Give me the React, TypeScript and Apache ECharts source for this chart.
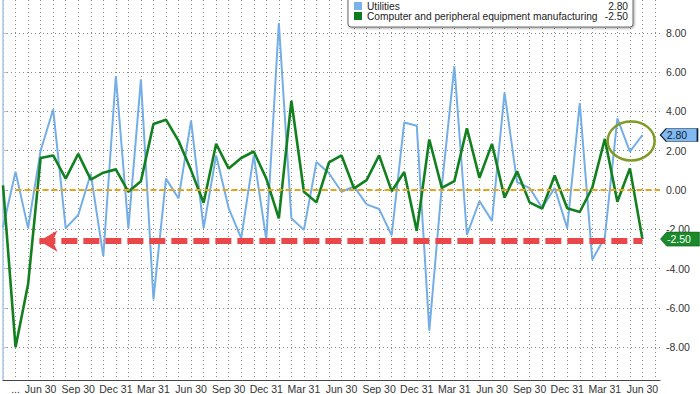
import { useEffect, useRef } from "react";
import * as echarts from "echarts";

// Monthly changes, last point = Jun 30
const utilities = [
  -1.9, 0.93, -1.94, 2.0, 4.1, -1.94, -1.27, 0.83, -3.37, 5.8,
  -1.94, 5.63, -5.57, 0.58, -0.43, 3.53, -1.94, 1.76, -0.93, -2.45,
  1.76, -2.53, 8.5, -1.44, -2.03, 1.42, 0.85, -0.09, 0.18, -0.73,
  -0.97, -2.31, 3.44, 3.27, -7.16, 0.2, 6.3, -2.28, -0.56, -1.57,
  4.96, 0.4, 0.1, -0.9, 0.1, -1.94, 4.42, -3.55, -2.4, 3.65,
  1.95, 2.8,
];

const computer = [
  0.24, -8.0, -4.8, 1.63, 1.76, 0.58, 1.84, 0.53, 0.88, 1.05,
  -0.09, 0.45, 3.36, 3.58, 2.5, 1.0, -0.65, 2.35, 1.09, 1.63,
  1.96, 0.58, -1.44, 4.54, -0.09, -0.63, 1.4, 1.76, 0.08, 0.5,
  1.76, -0.06, 0.92, -2.08, 2.57, 0.11, 0.45, 3.14, 0.62, 2.35,
  -0.39, 0.95, -0.63, -0.95, 0.74, -0.93, -1.12, 0.12, 2.6, -0.6,
  1.1, -2.5,
];

const seriesNames = ["Utilities", "Computer and peripheral equipment manufacturing"];

const xTickLabels = [
  "...", "Jun 30", "Sep 30", "Dec 31", "Mar 31", "Jun 30", "Sep 30", "Dec 31", "Mar 31",
  "Jun 30", "Sep 30", "Dec 31", "Mar 31", "Jun 30", "Sep 30", "Dec 31", "Mar 31", "Jun 30",
];
const xTickIndex = [1, 3, 6, 9, 12, 15, 18, 21, 24, 27, 30, 33, 36, 39, 42, 45, 48, 51];

// annotation anchors (in data units)
const arrowLevel = -2.6;
const arrowFrom = 2.9;
const ellipseCenter = [50.1, 2.5];

const FONT = "'Liberation Sans', Arial, sans-serif";
const GRID_COLOR = "#8a8a8a";

export default function App() {
  const ref = useRef<HTMLDivElement>(null);

  useEffect(() => {
    if (!ref.current) return;
    const chart = echarts.init(ref.current, undefined, { renderer: "svg" });
    const last = utilities.length - 1;
    const labelMap: Record<number, string> = {};
    xTickIndex.forEach((idx, k) => (labelMap[idx] = xTickLabels[k]));

    const blueVal = utilities[last];
    const greenVal = computer[last];
    const values: Record<string, string> = {
      [seriesNames[0]]: blueVal.toFixed(2),
      [seriesNames[1]]: greenVal.toFixed(2),
    };

    const tagPath = "path://M0,6.5 L6,0 L38,0 L38,13 L6,13 Z";

    chart.setOption({
      animation: false,
      grid: { left: 1, right: 40, top: 0, bottom: 11, containLabel: false },
      legend: {
        show: true,
        orient: "vertical",
        left: 348,
        top: -6,
        padding: [7, 5, 6, 6],
        itemGap: 0,
        itemWidth: 8,
        itemHeight: 8,
        icon: "rect",
        selectedMode: false,
        backgroundColor: "#ffffff",
        borderColor: "#6a6a6a",
        borderWidth: 1,
        borderRadius: 3,
        shadowColor: "rgba(0,0,0,0.35)",
        shadowBlur: 2,
        shadowOffsetX: 1,
        shadowOffsetY: 1,
        formatter: (name: string) => `{n|${name}}{v|${values[name]}}`,
        textStyle: {
          fontFamily: FONT,
          fontSize: 10.2,
          color: "#222",
          rich: {
            n: { width: 232, fontFamily: FONT, fontSize: 10.2, color: "#222", lineHeight: 13.5 },
            v: { width: 29, align: "right", fontFamily: FONT, fontSize: 10.2, color: "#222", lineHeight: 13.5 },
          },
        },
        data: seriesNames,
      },
      xAxis: {
        type: "value",
        min: 0,
        max: 52.4,
        interval: 1,
        axisLine: { show: true, onZero: false, lineStyle: { color: "#444", width: 1 } },
        axisTick: { show: false },
        axisLabel: {
          show: true,
          formatter: (v: number) => labelMap[Math.round(v)] ?? "",
          fontFamily: FONT,
          fontSize: 10.5,
          color: "#333",
          margin: 3,
          showMaxLabel: false,
        },
        splitLine: {
          show: true,
          showMinLine: true,
          showMaxLine: false,
          lineStyle: { color: GRID_COLOR, width: 1, type: [1, 3] },
        },
      },
      yAxis: {
        type: "value",
        position: "right",
        min: -9.67,
        max: 9.67,
        minInterval: 2,
        maxInterval: 2,
        axisLine: { show: true, lineStyle: { color: "#a9c6e4", width: 1.5 } },
        axisTick: { show: true, length: 4, lineStyle: { color: "#a9c6e4" } },
        axisLabel: {
          formatter: (v: number) => v.toFixed(2),
          fontFamily: FONT,
          fontSize: 10.5,
          color: "#333",
          margin: 6,
          showMinLabel: false,
          showMaxLabel: false,
        },
        splitLine: {
          show: true,
          showMinLine: false,
          showMaxLine: false,
          lineStyle: { color: GRID_COLOR, width: 1, type: [1, 3] },
        },
      },
      series: [
        {
          name: seriesNames[0],
          type: "line",
          data: utilities.map((v, i) => [i, v]),
          symbol: "none",
          color: "#79b3ea",
          lineStyle: { color: "#74aee6", width: 2 },
          z: 3,
          markPoint: {
            silent: true,
            symbol: tagPath,
            symbolSize: [37, 13],
            symbolOffset: [36.5, 0],
            itemStyle: { color: "#82baf0", borderColor: "#0d1f3c", borderWidth: 1 },
            label: {
              show: true,
              position: "inside",
              offset: [-2, 0],
              formatter: blueVal.toFixed(2),
              color: "#0d1f3c",
              fontFamily: FONT,
              fontSize: 10.5,
            },
            data: [{ coord: [last, blueVal] }],
          },
        },
        {
          name: seriesNames[1],
          type: "line",
          data: computer.map((v, i) => [i, v]),
          symbol: "none",
          color: "#0b7d1e",
          lineStyle: { color: "#13801f", width: 2.6 },
          z: 4,
          markLine: {
            silent: true,
            symbol: ["none", "none"],
            label: { show: false },
            emphasis: { disabled: true },
            data: [
              [
                { coord: [1, 0], symbol: "none", lineStyle: { color: "#e6a41e", width: 2, type: [6, 3] } },
                { coord: [52.4, 0], symbol: "none" },
              ],
              [
                {
                  coord: [arrowFrom, arrowLevel],
                  symbol: "arrow",
                  symbolSize: [16, 18],
                  lineStyle: { color: "#e9474a", width: 6, type: [16, 6] },
                  itemStyle: { color: "#e9474a" },
                },
                { coord: [last, arrowLevel], symbol: "none" },
              ],
            ],
          },
          markPoint: {
            silent: true,
            symbol: tagPath,
            symbolSize: [39, 14],
            symbolOffset: [37.5, 0],
            itemStyle: { color: "#1a8a2b", borderColor: "#0d5a18", borderWidth: 0.5 },
            label: {
              show: true,
              position: "inside",
              offset: [-1, 0],
              formatter: greenVal.toFixed(2),
              color: "#ffffff",
              fontFamily: FONT,
              fontSize: 10.5,
            },
            data: [{ coord: [last, greenVal] }],
          },
        },
      ],
    });

    const c = chart.convertToPixel({ gridIndex: 0 }, ellipseCenter) as number[];
    chart.setOption({
      graphic: [
        {
          type: "ellipse",
          shape: { cx: c[0], cy: c[1], rx: 23.5, ry: 19.5 },
          style: { fill: "none", stroke: "#7f9a25", lineWidth: 2.5 },
          z: 100,
          silent: true,
        },
      ],
    });

    return () => chart.dispose();
  }, []);

  return (
    <div
      ref={ref}
      style={{ position: "fixed", left: 0, top: 0, width: 700, height: 394, background: "#fff" }}
    />
  );
}
